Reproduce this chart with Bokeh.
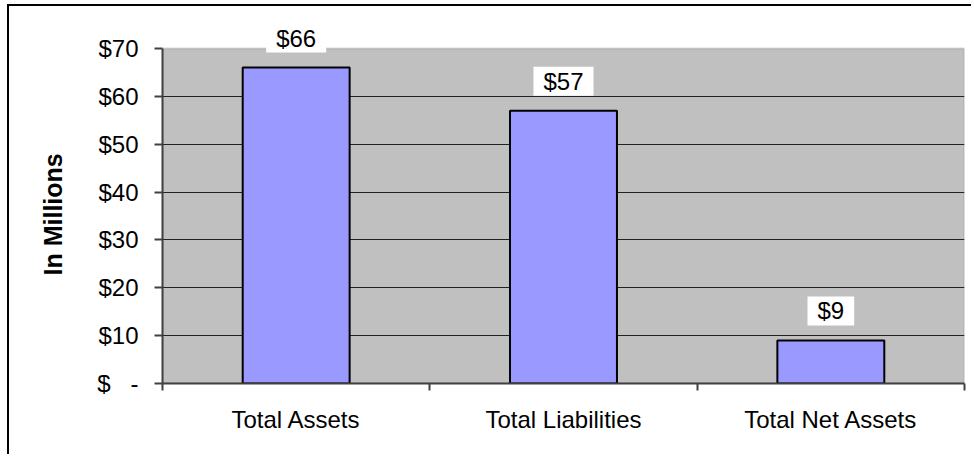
from bokeh.plotting import figure
from bokeh.models import ColumnDataSource, FixedTicker, Range1d, Label, BoxAnnotation, Title
from bokeh.embed import file_html
from bokeh.resources import INLINE

categories = ["Total Assets", "Total Liabilities", "Total Net Assets"]
values_musd = [66, 57, 9]
value_labels = ["$66", "$57", "$9"]
y_ticks = [0, 10, 20, 30, 40, 50, 60, 70]
y_tick_labels = ["$\u00a0\u00a0\u00a0-", "$10", "$20", "$30", "$40", "$50", "$60", "$70"]
y_title = "In Millions"

FONT = "Liberation Sans"
Y_MAX = 70

centers = [i + 0.5 for i in range(len(categories))]
src = ColumnDataSource(dict(x=centers, top=values_musd, lab=value_labels))

p = figure(width=964, height=450, output_backend="svg", toolbar_location=None,
           x_range=Range1d(0, len(categories)), y_range=Range1d(0, 75),
           min_border_left=153, min_border_right=9, min_border_top=18, min_border_bottom=73)
p.styles = {"margin-left": "7px", "margin-top": "4px",
            "border-left": "2px solid black", "border-top": "2px solid black"}

p.background_fill_color = "white"
p.border_fill_color = "white"
p.outline_line_color = None

# grey plot area 0..70 with grey border
p.add_layout(BoxAnnotation(bottom=0, top=Y_MAX, fill_color="#C0C0C0", fill_alpha=1,
                           line_color="#808080", line_width=2, level="image"))

p.vbar(x="x", top="top", width=0.4, source=src, fill_color="#9999FF",
       line_color="black", line_width=2)

for cx, v, lab in zip(centers, values_musd, value_labels):
    p.add_layout(Label(x=cx, y=v, text=lab, y_offset=15,
                       text_align="center", text_baseline="bottom",
                       text_font=FONT, text_font_size="24px", text_color="black",
                       background_fill_color="white", padding=(10, 1)))

# y-axis title as a left-side title, centred on the grey area
p.add_layout(Title(text=y_title, align="left", offset=108, standoff=55,
                   text_font=FONT, text_font_size="25px", text_font_style="bold",
                   text_color="black"), "left")

# x axis
p.xaxis.ticker = FixedTicker(ticks=centers, minor_ticks=list(range(len(categories) + 1)))
p.xaxis.major_label_overrides = {c: n for c, n in zip(centers, categories)}
p.xaxis.major_tick_out = 0
p.xaxis.major_tick_in = 0
p.xaxis.minor_tick_out = 7
p.xaxis.minor_tick_in = 0
p.xaxis.minor_tick_line_color = "#404040"
p.xaxis.minor_tick_line_width = 2
p.xaxis.axis_line_color = "#404040"
p.xaxis.axis_line_width = 2
p.xaxis.major_label_text_font = FONT
p.xaxis.major_label_text_font_size = "24px"
p.xaxis.major_label_text_color = "black"
p.xaxis.major_label_standoff = 15

# y axis
p.yaxis.ticker = FixedTicker(ticks=y_ticks)
p.yaxis.bounds = (0, Y_MAX)
p.yaxis.major_label_overrides = {t: l for t, l in zip(y_ticks, y_tick_labels)}
p.yaxis.minor_tick_line_color = None
p.yaxis.major_tick_out = 8
p.yaxis.major_tick_in = 0
p.yaxis.major_tick_line_color = "#404040"
p.yaxis.major_tick_line_width = 2
p.yaxis.axis_line_color = "#404040"
p.yaxis.axis_line_width = 2
p.yaxis.major_label_text_font = FONT
p.yaxis.major_label_text_font_size = "24px"
p.yaxis.major_label_text_color = "black"
p.yaxis.major_label_standoff = 16

p.xgrid.grid_line_color = None
p.ygrid.ticker = FixedTicker(ticks=y_ticks[:-1])
p.ygrid.grid_line_color = "#222222"
p.ygrid.grid_line_width = 1

open("out.html", "w").write(file_html(p, INLINE))
